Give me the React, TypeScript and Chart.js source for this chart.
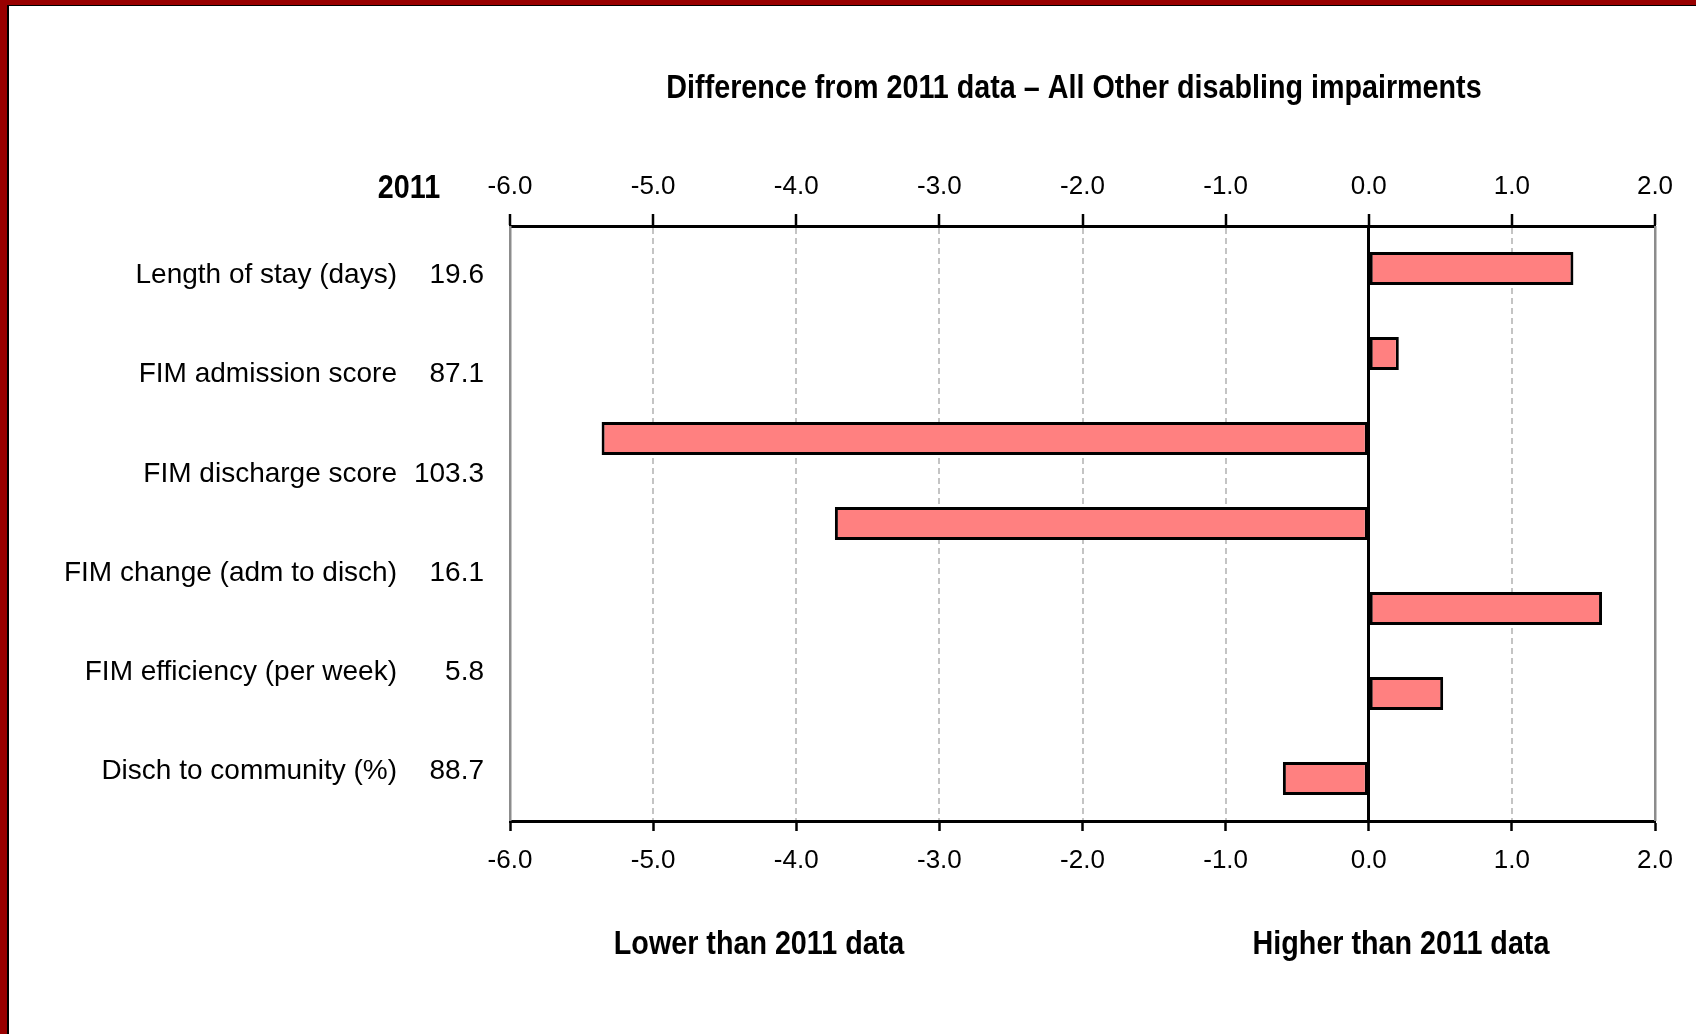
import React, { useEffect, useRef } from 'react';
import { Chart, registerables } from 'chart.js';

Chart.register(...registerables);

// ---- data ----
const barKeys = ['b1', 'b2', 'b3', 'b4', 'b5', 'b6', 'b7'];
const barValues = [1.43, 0.21, -5.36, -3.73, 1.63, 0.52, -0.6];
const rowLabels = [
  'Length of stay (days)',
  'FIM admission score',
  'FIM discharge score',
  'FIM change (adm to disch)',
  'FIM efficiency (per week)',
  'Disch to community (%)',
];
const rowValues2011 = ['19.6', '87.1', '103.3', '16.1', '5.8', '88.7'];
const axisMin = -6;
const axisMax = 2;
const axisStep = 1;
const titleText = 'Difference from 2011 data \u2013 All Other disabling impairments';
const yearHeader = '2011';
const lowerText = 'Lower than 2011 data';
const higherText = 'Higher than 2011 data';

const SANS = '"Liberation Sans", Arial, sans-serif';

const tickFmt = (v: any) => Number(v).toFixed(1);

function drawNarrow(ctx: CanvasRenderingContext2D, text: string, x: number, y: number) {
  ctx.save();
  ctx.translate(x, y);
  ctx.scale(0.87, 1);
  ctx.fillText(text, 0, 0);
  ctx.restore();
}

const textPlugin = {
  id: 'extraTexts',
  afterDraw(chart: any) {
    const ctx = chart.ctx as CanvasRenderingContext2D;
    ctx.save();
    ctx.fillStyle = '#000';
    ctx.textBaseline = 'alphabetic';
    ctx.textAlign = 'center';
    ctx.font = `bold 33px ${SANS}`;
    drawNarrow(ctx, titleText, 1074, 98);
    drawNarrow(ctx, yearHeader, 409, 198);
    drawNarrow(ctx, lowerText, 759, 954);
    drawNarrow(ctx, higherText, 1401, 954);
    ctx.restore();
  },
};

export default function App() {
  const ref = useRef<HTMLCanvasElement | null>(null);

  useEffect(() => {
    const canvas = ref.current;
    if (!canvas) return;
    const tickFont = { family: SANS, size: 26 };
    const labelFont = { family: SANS, size: 28 };
    const chart = new Chart(canvas, {
      type: 'bar',
      data: {
        labels: barKeys,
        datasets: [
          {
            data: barValues,
            backgroundColor: '#ff8080',
            borderColor: '#000',
            borderWidth: 3,
            borderSkipped: false,
            categoryPercentage: 1,
            barPercentage: 0.39,
          } as any,
        ],
      },
      options: {
        indexAxis: 'y',
        responsive: false,
        animation: false,
        devicePixelRatio: 1,
        layout: { padding: { left: 0, top: 166, right: 41, bottom: 153 } },
        plugins: {
          legend: { display: false },
          title: { display: false },
          tooltip: { enabled: false },
        },
        scales: {
          x: {
            type: 'linear',
            position: 'top',
            min: axisMin,
            max: axisMax,
            ticks: {
              stepSize: axisStep,
              callback: tickFmt,
              font: tickFont,
              color: '#000',
              padding: 12,
              maxRotation: 0,
              autoSkip: false,
            },
            grid: {
              color: (c: any) =>
                c.tick && (c.tick.value === axisMin || c.tick.value === 0 || c.tick.value === axisMax)
                  ? 'rgba(0,0,0,0)'
                  : '#c4c4c4',
              lineWidth: 2,
              tickColor: '#000',
              tickLength: 12,
              tickWidth: 2.5,
              tickBorderDash: [],
            },
            border: { color: '#000', width: 3, dash: [6, 4] },
            afterFit: (s: any) => {
              s.height = 60;
            },
          },
          x2: {
            type: 'linear',
            position: 'bottom',
            min: axisMin,
            max: axisMax,
            ticks: {
              stepSize: axisStep,
              callback: tickFmt,
              font: tickFont,
              color: '#000',
              padding: 14,
              maxRotation: 0,
              autoSkip: false,
            },
            grid: {
              drawOnChartArea: false,
              color: '#000',
              tickColor: '#000',
              tickLength: 10,
              tickWidth: 2.5,
            },
            border: { color: '#000', width: 3 },
            afterFit: (s: any) => {
              s.height = 60;
            },
          },
          xLines: {
            type: 'linear',
            position: 'bottom',
            min: axisMin,
            max: axisMax,
            weight: -1,
            afterBuildTicks: (s: any) => {
              s.ticks = [{ value: axisMin }, { value: 0 }, { value: axisMax }];
            },
            ticks: { display: false },
            grid: {
              drawTicks: false,
              color: (c: any) => (c.tick && c.tick.value === 0 ? '#000' : '#8c8c8c'),
              lineWidth: (c: any) => (c.tick && c.tick.value === 0 ? 3 : 2.5),
              z: 1,
            },
            border: { display: false },
            afterFit: (s: any) => {
              s.height = 0;
            },
          },
          y: {
            type: 'category',
            position: 'left',
            display: false,
          },
          yVals: {
            type: 'category',
            labels: rowValues2011,
            position: 'left',
            weight: 1,
            offset: true,
            grid: { display: false, drawTicks: false },
            border: { display: false },
            ticks: { font: labelFont, color: '#000', padding: 26, crossAlign: 'near', autoSkip: false },
            afterFit: (s: any) => {
              s.width = 110;
            },
          },
          yNames: {
            type: 'category',
            labels: rowLabels,
            position: 'left',
            weight: 2,
            offset: true,
            grid: { display: false, drawTicks: false },
            border: { display: false },
            ticks: { font: labelFont, color: '#000', padding: 3, crossAlign: 'near', autoSkip: false },
            afterFit: (s: any) => {
              s.width = 400;
            },
          },
        } as any,
      },
      plugins: [textPlugin as any],
    });
    return () => chart.destroy();
  }, []);

  return (
    <div style={{ position: 'absolute', left: 0, top: 0, width: 1696, height: 1034, background: '#fff', overflow: 'hidden' }}>
      <canvas ref={ref} width={1696} height={1034} style={{ position: 'absolute', left: 0, top: 0, width: 1696, height: 1034 }} />
      <div style={{ position: 'absolute', left: 0, top: 0, width: 1696, height: 5, background: '#990000' }} />
      <div style={{ position: 'absolute', left: 7, top: 5, width: 1689, height: 1, background: '#000' }} />
      <div style={{ position: 'absolute', left: 0, top: 0, width: 7, height: 1034, background: '#990000' }} />
      <div style={{ position: 'absolute', left: 7, top: 5, width: 2, height: 1029, background: '#000' }} />
    </div>
  );
}
